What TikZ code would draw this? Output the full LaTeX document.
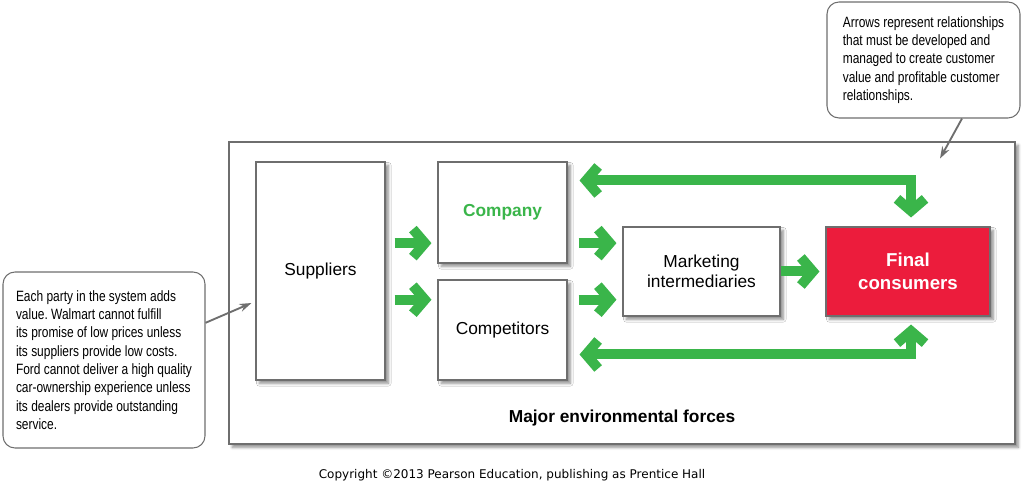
\documentclass[tikz,border=0pt]{standalone}
\usepackage{fontspec}
\setmainfont{Liberation Sans}
\newfontfamily\narrowfont[FakeStretch=0.8]{Liberation Sans}
\newfontfamily\copyfont{DejaVu Sans}
\usetikzlibrary{arrows.meta,calc,shadows.blur}
\definecolor{pgreen}{HTML}{3AB54A}
\definecolor{pred}{HTML}{EC1C3C}
\definecolor{pgray}{HTML}{6E6E6E}
\frenchspacing
\begin{document}
\begin{tikzpicture}[x=0.75pt,y=-0.75pt,
  boxshadow/.style={blur shadow={shadow xshift=2.5pt,shadow yshift=-2.5pt,shadow blur steps=6,shadow opacity=45}},
  box/.style={draw=pgray,line width=0.8pt,fill=white,boxshadow,font=\fontsize{13}{15}\selectfont,align=center,inner sep=0pt},
  garrow/.style={draw=pgreen,line width=7.5pt,line join=miter,
    -{Straight Barb[length=9pt,width=21pt,line join=miter]}},
  gdouble/.style={draw=pgreen,line width=7.5pt,line join=miter,
    {Straight Barb[length=9pt,width=21pt,line join=miter]}-{Straight Barb[length=9pt,width=21pt,line join=miter]}},
  callout/.style={draw=pgray,line width=0.8pt,fill=white,rounded corners=9pt,align=left,
    font=\narrowfont\fontsize{11.2}{13.7}\selectfont,inner sep=0pt},
  callarrow/.style={draw=pgray,line width=1.4pt,-{Stealth[length=9pt,width=6pt]}}
]
\useasboundingbox (0,0) rectangle (1024,491);
% frame
\node[draw=pgray,line width=0.8pt,fill=white,boxshadow,minimum width=786*0.75pt,minimum height=302*0.75pt,inner sep=0pt] (frame) at (622,293) {};
\node[font=\bfseries\fontsize{13}{15}\selectfont] (env) at (622,418) {Major environmental forces};
% boxes
\node[box,minimum width=129*0.75pt,minimum height=218*0.75pt] (sup) at (320.5,271) {Suppliers};
\node[box,minimum width=129*0.75pt,minimum height=101*0.75pt,text=pgreen,font=\bfseries\fontsize{13}{15}\selectfont] (com) at (502.5,212.5) {Company};
\node[box,minimum width=129*0.75pt,minimum height=100*0.75pt] (cmp) at (502.5,330) {Competitors};
\node[box,minimum width=157*0.75pt,minimum height=89*0.75pt] (mkt) at (701.5,271.5) {Marketing\\intermediaries};
\node[box,fill=pred,text=white,minimum width=164*0.75pt,minimum height=89*0.75pt,font=\bfseries\fontsize{14}{17}\selectfont] (fin) at (908,271.5) {Final\\consumers};
% helper coordinates
\coordinate (a1) at ($(com.south west)!0.2!(com.north west)$);
\coordinate (a2) at ($(cmp.north west)!0.2!(cmp.south west)$);
\coordinate (t) at ($(com.north east)+(0,19)$);
\coordinate (b) at ($(cmp.north east)+(0,75)$);
% green arrows
\begin{scope}[boxshadow]
\draw[garrow,shorten <=9*0.75pt,shorten >=6*0.75pt] (sup.east |- a1) -- (a1);
\draw[garrow,shorten <=9*0.75pt,shorten >=6*0.75pt] (sup.east |- a2) -- (a2);
\draw[garrow,shorten <=11*0.75pt,shorten >=6*0.75pt] (com.east |- a1) -- (mkt.west |- a1);
\draw[garrow,shorten <=11*0.75pt,shorten >=6*0.75pt] (cmp.east |- a2) -- (mkt.west |- a2);
\draw[garrow,shorten >=6*0.75pt] (mkt.east) -- (fin.west);
\draw[gdouble,shorten <=12*0.75pt,shorten >=9*0.75pt] (t) -- ($(fin.north |- t)+(3,0)$) -- ($(fin.north)+(3,0)$);
\draw[gdouble,shorten <=12*0.75pt,shorten >=8*0.75pt] (b) -- ($(fin.south |- b)+(3,0)$) -- ($(fin.south)+(3,0)$);
\end{scope}
% callouts
\node[callout,minimum width=202*0.75pt,minimum height=176*0.75pt] (lc) at (104,360)
{Each party in the system adds\\value. Walmart cannot fulfill\\its promise of low prices unless\\its suppliers provide low costs.\\Ford cannot deliver a high quality\\car-ownership experience unless\\its dealers provide outstanding\\service.};
\node[callout,minimum width=193*0.75pt,minimum height=116*0.75pt] (rc) at (923.5,60)
{Arrows represent relationships\\that must be developed and\\managed to create customer\\value and profitable customer\\relationships.};
\coordinate (lt) at ($(sup.west)+(-4,32)$);
\coordinate (rt) at ($(rc.south)+(16.5,40)$);
\draw[callarrow] ($(lc.north east)!0.29!(lc.south east)$) -- (lt);
\draw[callarrow] ($(rc.south)+(38.5,0)$) -- (rt);
% copyright
\node[font=\copyfont\fontsize{9}{11}\selectfont] (copy) at (512,475) {Copyright ©2013 Pearson Education, publishing as Prentice Hall};
\end{tikzpicture}
\end{document}
